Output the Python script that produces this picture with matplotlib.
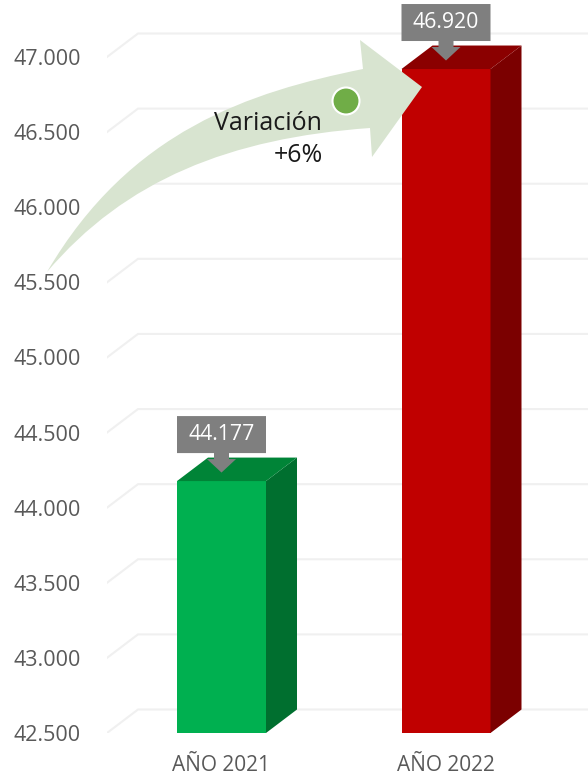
import matplotlib
matplotlib.use('Agg')
import matplotlib.pyplot as plt
from matplotlib.path import Path
from matplotlib.patches import PathPatch, Circle
from matplotlib.transforms import Affine2D

categories = ['AÑO 2021', 'AÑO 2022']
values = [44177, 46920]
value_labels = ['44.177', '46.920']
y_ticks = [42500, 43000, 43500, 44000, 44500, 45000, 45500, 46000, 46500, 47000]
y_labels = ['42.500', '43.000', '43.500', '44.000', '44.500',
            '45.000', '45.500', '46.000', '46.500', '47.000']
front_colors = ['#00b050', '#c00000']
top_colors = ['#008437', '#8b0000']
side_colors = ['#006f2f', '#7b0000']

W, H = 588, 776
plt.rcParams['font.family'] = ['Open Sans', 'DejaVu Sans']

fig = plt.figure(figsize=(W / 100, H / 100), dpi=100)
ax = fig.add_axes([107 / W, (H - 733) / H, (W - 107) / W, 733 / H])

# pixels per data unit
px_x = 224.5
px_y = 676 / 4500
ax.set_xlim((107 - 221.5) / px_x, (W - 221.5) / px_x)
ax.set_ylim(42500, 42500 + 733 / px_y)
for s in ax.spines.values():
    s.set_visible(False)

dx = 31 / px_x      # depth of the fake 3d
dy = 23.5 / px_y
half = 44.5 / px_x

# floor lines and back wall lines
for t in y_ticks:
    ax.plot([ax.get_xlim()[0], ax.get_xlim()[0] + dx, ax.get_xlim()[1]],
            [t, t + dy, t + dy], color='#f0f0f0', lw=1.5, zorder=1,
            solid_joinstyle='miter')

for i, v in enumerate(values):
    ax.bar(i, v - 42500, bottom=42500, width=2 * half, color=front_colors[i], zorder=3)
    ax.fill([i + half, i + half + dx, i + half + dx, i + half],
            [42500, 42500 + dy, v + dy, v], color=side_colors[i], lw=0, zorder=3)
    ax.fill([i - half, i - half + dx, i + half + dx, i + half],
            [v, v + dy, v + dy, v], color=top_colors[i], lw=0, zorder=3)

    # callout with the value, sits on top of the bar
    top = [(-44.5, 65), (44.5, 65), (44.5, 28), (7.5, 28), (7.5, 22),
           (14.5, 22), (0, 8.5), (-14.5, 22), (-7.5, 22), (-7.5, 28), (-44.5, 28)]
    ax.fill([i + p[0] / px_x for p in top], [v + p[1] / px_y for p in top],
            color='#7f7f7f', lw=0, zorder=4, clip_on=False)
    ax.text(i, v + 46.5 / px_y, value_labels[i], color='white', fontsize=15.3,
            ha='center', va='center', zorder=5)

ax.set_xticks(range(len(categories)))
ax.set_xticklabels(categories, fontsize=15, color='#595959')
ax.set_yticks(y_ticks)
ax.set_yticklabels(y_labels, fontsize=15.5, color='#595959')
ax.tick_params(axis='both', length=0)
ax.tick_params(axis='x', pad=15.5)
ax.tick_params(axis='y', pad=19)

# the curved arrow is a drawn shape, placed in pixels
to_px = Affine2D().scale(1, -1).translate(0, H)
verts = [(47, 272), (130, 130), (250, 92), (363, 69),
         (360, 40), (422, 87), (372, 157), (370, 128),
         (230, 138), (125, 180), (47, 272), (47, 272)]
codes = [Path.MOVETO, Path.CURVE4, Path.CURVE4, Path.CURVE4,
         Path.LINETO, Path.LINETO, Path.LINETO, Path.LINETO,
         Path.CURVE4, Path.CURVE4, Path.CURVE4, Path.CLOSEPOLY]
fig.add_artist(PathPatch(Path(verts, codes), facecolor='#d8e4d0', edgecolor='none',
                         transform=to_px, zorder=6))
fig.add_artist(Circle((346, 101), 13.5, facecolor='#70ad47', edgecolor='white', lw=1.5,
                      transform=to_px, zorder=7))
fig.text(268 / W, 1 - 124 / H, 'Variación', fontsize=18, color='#1a1a1a',
         ha='center', va='center', zorder=8)
fig.text(323 / W, 1 - 155 / H, '+6%', fontsize=18, color='#1a1a1a',
         ha='right', va='center', zorder=8)

fig.savefig('out.png', dpi=100)
